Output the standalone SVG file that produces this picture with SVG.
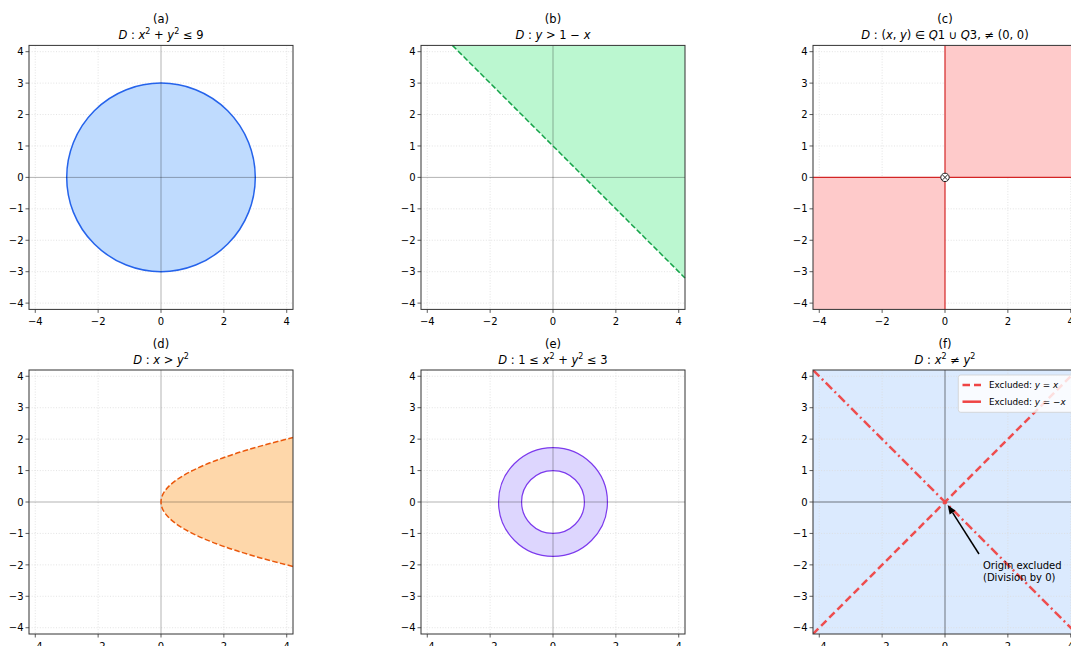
<svg xmlns="http://www.w3.org/2000/svg" xmlns:xlink="http://www.w3.org/1999/xlink" width="1071" height="646" viewBox="0 0 1071 646">
<style>
text{font-family:"DejaVu Sans",sans-serif;fill:#000}
.tk{font-size:10px;fill:#222}
.tl{font-size:11.5px;text-anchor:middle}
.i{font-style:italic}
.sp{font-size:8px}
.grid line{stroke:#dcdcdc;stroke-width:0.8;stroke-dasharray:1,1.7}
.ax{stroke:#000;stroke-opacity:0.3;stroke-width:1}
.ax5{stroke:#000;stroke-opacity:0.5;stroke-width:1}
.spine{fill:none;stroke:#333;stroke-width:1}
.tick line{stroke:#333;stroke-width:0.8}
.lg{font-size:8.8px}
.an{font-size:10px}
</style>
<defs>
<clipPath id="box"><rect x="-132" y="-132" width="264" height="264"/></clipPath>
<g id="grid" class="grid">
<line x1="-125.72" y1="-132" x2="-125.72" y2="132"/><line x1="-62.86" y1="-132" x2="-62.86" y2="132"/><line x1="62.86" y1="-132" x2="62.86" y2="132"/><line x1="125.72" y1="-132" x2="125.72" y2="132"/>
<line x1="-132" y1="-125.72" x2="132" y2="-125.72"/><line x1="-132" y1="-94.29" x2="132" y2="-94.29"/><line x1="-132" y1="-62.86" x2="132" y2="-62.86"/><line x1="-132" y1="-31.43" x2="132" y2="-31.43"/>
<line x1="-132" y1="31.43" x2="132" y2="31.43"/><line x1="-132" y1="62.86" x2="132" y2="62.86"/><line x1="-132" y1="94.29" x2="132" y2="94.29"/><line x1="-132" y1="125.72" x2="132" y2="125.72"/>
</g>
<g id="frame">
<rect class="spine" x="-132" y="-132" width="264" height="264"/>
<g class="tick">
<line x1="-125.72" y1="132" x2="-125.72" y2="135.5"/><line x1="-62.86" y1="132" x2="-62.86" y2="135.5"/><line x1="0" y1="132" x2="0" y2="135.5"/><line x1="62.86" y1="132" x2="62.86" y2="135.5"/><line x1="125.72" y1="132" x2="125.72" y2="135.5"/>
<line x1="-132" y1="-125.72" x2="-135.5" y2="-125.72"/><line x1="-132" y1="-94.29" x2="-135.5" y2="-94.29"/><line x1="-132" y1="-62.86" x2="-135.5" y2="-62.86"/><line x1="-132" y1="-31.43" x2="-135.5" y2="-31.43"/><line x1="-132" y1="0" x2="-135.5" y2="0"/>
<line x1="-132" y1="31.43" x2="-135.5" y2="31.43"/><line x1="-132" y1="62.86" x2="-135.5" y2="62.86"/><line x1="-132" y1="94.29" x2="-135.5" y2="94.29"/><line x1="-132" y1="125.72" x2="-135.5" y2="125.72"/>
</g>
<g class="tk" text-anchor="middle">
<text x="-125.72" y="147.5">−4</text><text x="-62.86" y="147.5">−2</text><text x="0" y="147.5">0</text><text x="62.86" y="147.5">2</text><text x="125.72" y="147.5">4</text>
</g>
<g class="tk" text-anchor="end">
<text x="-137.5" y="-122.1">4</text><text x="-137.5" y="-90.7">3</text><text x="-137.5" y="-59.3">2</text><text x="-137.5" y="-27.8">1</text><text x="-137.5" y="3.6">0</text>
<text x="-137.5" y="35">−1</text><text x="-137.5" y="66.5">−2</text><text x="-137.5" y="97.9">−3</text><text x="-137.5" y="129.3">−4</text>
</g>
</g>
</defs>
<rect width="1071" height="646" fill="#fff"/>

<g id="panel-a" transform="translate(161,177.4)">
<use xlink:href="#grid" href="#grid"/>
<circle cx="0" cy="0" r="94.29" fill="#bfdbfe" stroke="#2563eb" stroke-width="1.5"/>
<line class="ax" x1="-132" y1="0" x2="132" y2="0"/><line class="ax" x1="0" y1="-132" x2="0" y2="132"/>
<use xlink:href="#frame" href="#frame"/>
<text class="tl" y="-154">(a)</text>
<text class="tl" y="-138.5"><tspan class="i">D</tspan> : <tspan class="i">x</tspan><tspan class="sp" dy="-4.5">2</tspan><tspan dy="4.5"> + </tspan><tspan class="i">y</tspan><tspan class="sp" dy="-4.5">2</tspan><tspan dy="4.5"> ≤ 9</tspan></text>
</g>

<g id="panel-b" transform="translate(553,177.4)">
<use xlink:href="#grid" href="#grid"/>
<polygon points="-100.6,-132 132,-132 132,100.6" fill="#bbf7d0"/>
<line class="ax" x1="-132" y1="0" x2="132" y2="0"/><line class="ax" x1="0" y1="-132" x2="0" y2="132"/>
<line x1="-100.6" y1="-132" x2="132" y2="100.6" stroke="#16a34a" stroke-width="1.5" stroke-dasharray="5.5,2.4"/>
<use xlink:href="#frame" href="#frame"/>
<text class="tl" y="-154">(b)</text>
<text class="tl" y="-138.5"><tspan class="i">D</tspan> : <tspan class="i">y</tspan> &gt; 1 − <tspan class="i">x</tspan></text>
</g>

<g id="panel-c" transform="translate(945,177.4)">
<use xlink:href="#grid" href="#grid"/>
<rect x="0" y="-132" width="132" height="132" fill="#fecaca"/>
<rect x="-132" y="0" width="132" height="132" fill="#fecaca"/>
<line x1="0" y1="-132" x2="0" y2="132" stroke="#d32525" stroke-width="1.2"/>
<line x1="-132" y1="0" x2="132" y2="0" stroke="#d32525" stroke-width="1.2"/>
<circle cx="0" cy="0" r="4.2" fill="#fff" stroke="#222" stroke-width="1"/>
<path d="M-2.4,-2.4 L2.4,2.4 M-2.4,2.4 L2.4,-2.4" stroke="#222" stroke-width="1"/>
<use xlink:href="#frame" href="#frame"/>
<text class="tl" y="-154">(c)</text>
<text class="tl" y="-138.5"><tspan class="i">D</tspan> : (<tspan class="i">x</tspan>, <tspan class="i">y</tspan>) ∈ <tspan class="i">Q</tspan>1 ∪ <tspan class="i">Q</tspan>3, ≠ (0, 0)</text>
</g>

<g id="panel-d" transform="translate(161,502)">
<use xlink:href="#grid" href="#grid"/>
<path d="M132,64.4 Q-132,0 132,-64.4 Z" fill="#fed7aa"/>
<line class="ax" x1="-132" y1="0" x2="132" y2="0"/><line class="ax" x1="0" y1="-132" x2="0" y2="132"/>
<path d="M132,64.4 Q-132,0 132,-64.4" fill="none" stroke="#ea580c" stroke-width="1.5" stroke-dasharray="5.5,2.4"/>
<use xlink:href="#frame" href="#frame"/>
<text class="tl" y="-154">(d)</text>
<text class="tl" y="-138.5"><tspan class="i">D</tspan> : <tspan class="i">x</tspan> &gt; <tspan class="i">y</tspan><tspan class="sp" dy="-4.5">2</tspan></text>
</g>

<g id="panel-e" transform="translate(553,502)">
<use xlink:href="#grid" href="#grid"/>
<path d="M54.44,0 A54.44,54.44 0 1 0 -54.44,0 A54.44,54.44 0 1 0 54.44,0 Z M31.43,0 A31.43,31.43 0 1 0 -31.43,0 A31.43,31.43 0 1 0 31.43,0 Z" fill="#ddd6fe" fill-rule="evenodd" stroke="#7c3aed" stroke-width="1.2"/>
<line class="ax" x1="-132" y1="0" x2="132" y2="0"/><line class="ax" x1="0" y1="-132" x2="0" y2="132"/>
<use xlink:href="#frame" href="#frame"/>
<text class="tl" y="-154">(e)</text>
<text class="tl" y="-138.5"><tspan class="i">D</tspan> : 1 ≤ <tspan class="i">x</tspan><tspan class="sp" dy="-4.5">2</tspan><tspan dy="4.5"> + </tspan><tspan class="i">y</tspan><tspan class="sp" dy="-4.5">2</tspan><tspan dy="4.5"> ≤ 3</tspan></text>
</g>

<g id="panel-f" transform="translate(945,502)">
<rect x="-132" y="-132" width="264" height="264" fill="#dbeafe"/>
<use xlink:href="#grid" href="#grid"/>
<line class="ax5" x1="-132" y1="0" x2="132" y2="0"/><line class="ax5" x1="0" y1="-132" x2="0" y2="132"/>
<g clip-path="url(#box)">
<line x1="-132" y1="132" x2="132" y2="-132" stroke="#ef4444" stroke-width="2.5" stroke-opacity="0.95" stroke-dasharray="7.5,4"/>
<line x1="-132" y1="-132" x2="132" y2="132" stroke="#ef4444" stroke-width="2.5" stroke-opacity="0.95" stroke-dasharray="9,3.5,2,3.5"/>
</g>
<g id="legend">
<rect x="13.3" y="-127" width="130" height="37.3" rx="2.5" fill="#fff" fill-opacity="0.82" stroke="#d0d0d0" stroke-width="0.8"/>
<line x1="17.5" y1="-117" x2="36" y2="-117" stroke="#ef4444" stroke-width="2.5" stroke-dasharray="7.5,4"/>
<line x1="17.5" y1="-100.3" x2="36" y2="-100.3" stroke="#ef4444" stroke-width="2.5"/>
<text class="lg" x="44" y="-113.9">Excluded: <tspan class="i">y</tspan> = <tspan class="i">x</tspan></text>
<text class="lg" x="44" y="-97.2">Excluded: <tspan class="i">y</tspan> = −<tspan class="i">x</tspan></text>
</g>
<g id="annotation">
<line x1="34" y1="52" x2="7.6" y2="10.6" stroke="#000" stroke-width="1.5"/>
<polygon points="2.7,3 10.5,8.7 4.6,12.5" fill="#000"/>
<text class="an" x="38" y="66.6">Origin excluded</text>
<text class="an" x="38" y="79">(Division by 0)</text>
</g>
<use xlink:href="#frame" href="#frame"/>
<text class="tl" y="-154">(f)</text>
<text class="tl" y="-138.5"><tspan class="i">D</tspan> : <tspan class="i">x</tspan><tspan class="sp" dy="-4.5">2</tspan><tspan dy="4.5"> ≠ </tspan><tspan class="i">y</tspan><tspan class="sp" dy="-4.5">2</tspan></text>
</g>
</svg>
